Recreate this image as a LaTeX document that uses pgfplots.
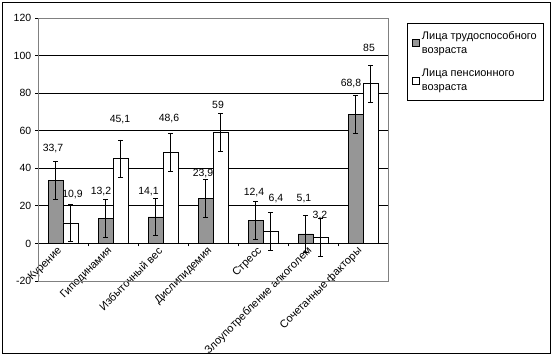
\documentclass[border=0pt]{standalone}
\usepackage{pgfplots}
\pgfplotsset{compat=1.18}
\usepackage{fontspec}
\setmainfont{Liberation Sans}
\definecolor{bargray}{RGB}{150,150,150}
\definecolor{bordergray}{RGB}{128,128,128}
\begin{document}
\begin{tikzpicture}
\fontsize{11}{13}\selectfont
\begin{axis}[
  scale only axis,
  width=350bp, height=263bp,
  xmin=-0.5, xmax=6.5,
  ymin=-20, ymax=120,
  axis x line*=middle,
  axis y line*=left,
  axis line style={black, line width=0.75bp},
  tick align=outside,
  ytick={-20,0,20,40,60,80,100,120},
  ymajorgrids,
  grid style={black, line width=0.75bp},
  major tick length=3bp,
  tick style={black, line width=0.75bp},
  xtick={0.5,1.5,2.5,3.5,4.5,5.5},
  xticklabels={,,,,,},
  extra x ticks={0,1,2,3,4,5,6},
  extra x tick labels={Курение,Гиподинамия,Избыточный вес,Дислипидемия,Стресс,Злоупотребление алкоголем,Сочетанные факторы},
  extra x tick style={major tick length=0pt, grid=none},
  xticklabel style={font=\fontsize{11}{13}\selectfont, xshift=-2bp, yshift=-5bp, rotate=45, anchor=east, inner sep=1bp},
  yticklabel style={font=\fontsize{10.5}{12}\selectfont},
  /pgf/number format/assume math mode=true,
  legend style={at={(rel axis cs:1.0543,0.981)}, anchor=north west, draw=black, line width=0.75bp,
    font=\fontsize{11}{14}\selectfont, cells={align=left, anchor=west}, row sep=10bp,
    inner xsep=5bp, inner ysep=6bp},
  legend cell align=left,
  legend image code/.code={\draw[#1, line width=0.6bp] (0bp,-3.5bp) rectangle (7bp,3.5bp);},
  clip=false,
]
\draw[bordergray, line width=0.75bp] (rel axis cs:0,0) rectangle (rel axis cs:1,1);
\addplot[ybar, bar width=15bp, bar shift=0pt, fill=bargray, draw=black, line width=0.6bp,
  error bars/.cd, y dir=both, y explicit,
  error bar style={black, line width=0.75bp},
  error mark options={rotate=90, mark size=2.5bp, black, line width=0.75bp}]
  table[x=x, y=y, y error=e] {
x y e
-0.15 33.7 10
0.85 13.2 10
1.85 14.1 10
2.85 23.9 10
3.85 12.4 10
4.85 5.1 10
5.85 68.8 10
};
\addlegendentry{Лица трудоспособного\\возраста}
\addplot[ybar, bar width=15bp, bar shift=0pt, fill=white, draw=black, line width=0.6bp,
  error bars/.cd, y dir=both, y explicit,
  error bar style={black, line width=0.75bp},
  error mark options={rotate=90, mark size=2.5bp, black, line width=0.75bp}]
  table[x=x, y=y, y error=e] {
x y e
0.15 10.9 10
1.15 45.1 10
2.15 48.6 10
3.15 59 10
4.15 6.4 10
5.15 3.2 10
6.15 85 10
};
\addlegendentry{Лица пенсионного\\возраста}
\addplot[forget plot, only marks, mark=none, nodes near coords, point meta=explicit symbolic,
  nodes near coords style={anchor=center, font=\fontsize{10.5}{12}\selectfont, inner sep=0pt}]
  table[x=x, y=y, meta=lab] {
x y lab
-0.20 50.7 33,7
0.19 26.0 10,9
0.76 27.7 13,2
1.14 66.0 45,1
1.71 27.7 14,1
2.12 66.7 48,6
2.80 37.3 23,9
3.10 73.6 59
3.82 27.2 12,4
4.26 24.0 6,4
4.82 24.0 5,1
5.14 15.0 3,2
5.76 85.3 68,8
6.12 104.0 85
};
\coordinate (psw) at (rel axis cs:0,0);
\coordinate (pne) at (rel axis cs:1,1);
\end{axis}
\draw[black, line width=0.9bp] ([shift={(-36bp,-72bp)}]psw) rectangle ([shift={(162bp,16bp)}]pne);
\pgfresetboundingbox
\path[use as bounding box] ([shift={(-38bp,-77bp)}]psw) rectangle ([shift={(165bp,18bp)}]pne);
\end{tikzpicture}
\end{document}
